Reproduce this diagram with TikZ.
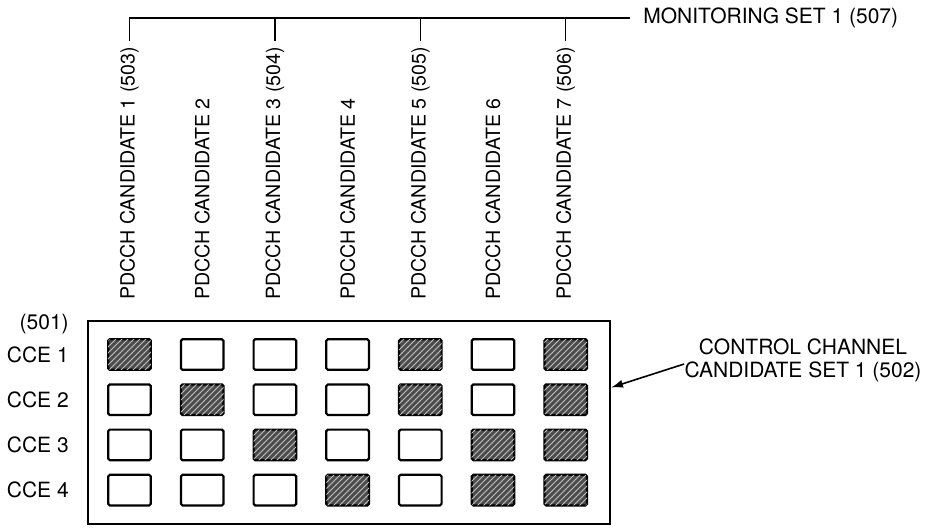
\documentclass[tikz,border=0pt]{standalone}
\usepackage{fontspec}
\setmainfont{TeX Gyre Heros}
\usetikzlibrary{arrows.meta,positioning,patterns}
\tikzset{
  >={Latex[length=6pt,width=4pt]},
  cce/.style={draw, line width=1.1pt, rounded corners=0.8pt, minimum width=21.3pt, minimum height=15.3pt, inner sep=0pt},
  hit/.style={cce, fill=black!70, postaction={pattern=north east lines, pattern color=white!75!black}},
  lbl/.style={inner sep=0pt, font=\fontsize{10.5}{11.5}\selectfont},
  cand/.style={lbl, rotate=90, anchor=west, font=\fontsize{9.8}{11}\selectfont},
}
\begin{document}
\begin{tikzpicture}[x=0.5pt, y=-0.5pt]
  \useasboundingbox (0,0) rectangle (929,527);
  \node[draw, line width=1pt, minimum width=261pt, minimum height=101.5pt] (ccs) at (349,422.5) {};

  % 1 = candidate uses this CCE
  \foreach \r/\row in {1/{1,0,0,0,1,0,1}, 2/{0,1,0,0,1,0,1}, 3/{0,0,1,0,0,1,1}, 4/{0,0,0,1,0,1,1}} {
    \foreach \h [count=\c] in \row {
      \ifnum\h=1
        \node[hit] (c\r\c) at ({129.5+72.7*(\c-1)}, {354.5+45.2*(\r-1)}) {};
      \else
        \node[cce] (c\r\c) at ({129.5+72.7*(\c-1)}, {354.5+45.2*(\r-1)}) {};
      \fi
    }
    \node[lbl, left=19pt of c\r1] (cce\r) {CCE \r};
  }
  \node[lbl, anchor=south east] (n501) at ([yshift=6pt]cce1.north east) {(501)};

  \foreach \c/\t in {1/{1 (503)}, 2/2, 3/{3 (504)}, 4/4, 5/{5 (505)}, 6/6, 7/{7 (506)}}
    \node[cand] (l\c) at ({129.5+72.7*(\c-1)}, 300) {PDCCH CANDIDATE \t};

  \node[lbl, anchor=west, inner xsep=6.5pt] (mset) at (630,18) {MONITORING SET 1 (507)};
  \draw[line width=0.75pt] (mset.west) -| ([yshift=3pt]l1.east);
  \foreach \c in {3,5,7}
    \draw[line width=0.75pt] ([yshift=3pt]l\c.east) -- (l\c.east |- mset.west);

  \node[lbl, align=center] (cset) at (803,360) {CONTROL CHANNEL\\CANDIDATE SET 1 (502)};
  \draw[->, line width=0.8pt] ([yshift=-2pt]cset.west) -- ([yshift=17.5pt]ccs.east);
\end{tikzpicture}
\end{document}
